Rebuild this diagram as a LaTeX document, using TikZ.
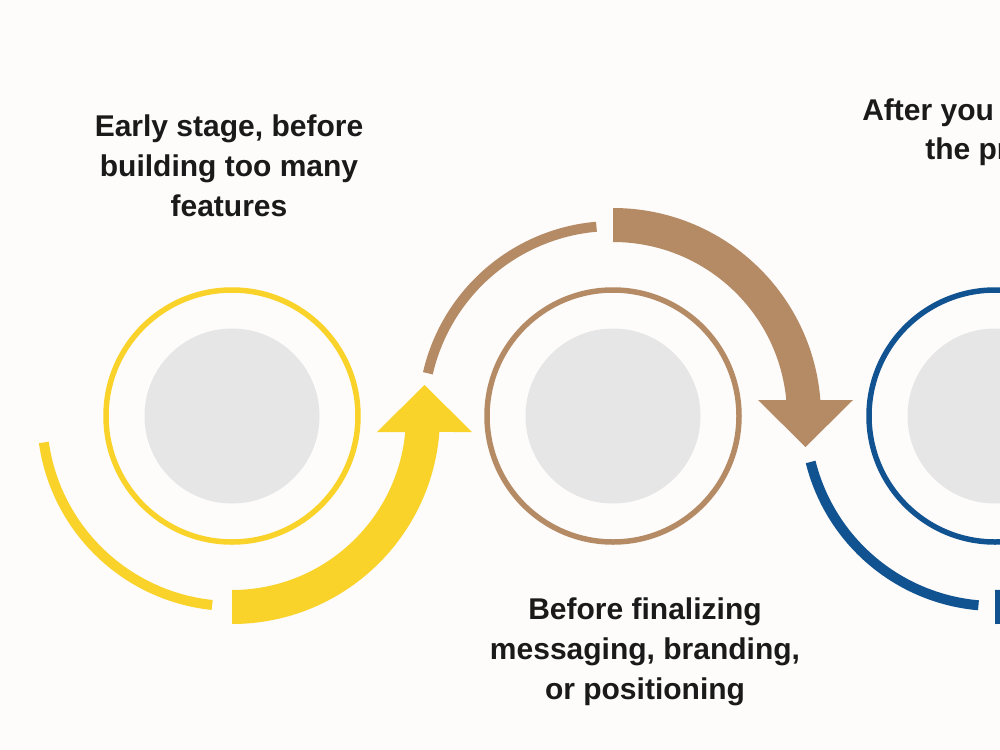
\documentclass[tikz,border=0pt]{standalone}
\usepackage{fontspec}
\setmainfont{Liberation Sans}
\usepackage{tikz}

\definecolor{stageyellow}{RGB}{249,210,42}
\definecolor{stagebrown}{RGB}{181,139,101}
\definecolor{stageblue}{RGB}{17,82,145}
\definecolor{discgrey}{RGB}{230,230,230}
\definecolor{paper}{RGB}{253,252,251}
\definecolor{ink}{RGB}{26,26,26}

\begin{document}
\begin{tikzpicture}[x=0.75pt,y=0.75pt,yscale=-1,xscale=1,
  ring/.style={line width=5.5pt*0.75},
  disc/.style={fill=discgrey},
  thinarc/.style={line width=10pt*0.75,line cap=butt},
  stagetxt/.style={text=ink,font=\bfseries\fontsize{22.5pt}{30pt}\selectfont,inner sep=0pt,align=center}]
%set diagram to 1000 x 750
\clip (0,0) rectangle (1000,750);
\fill [paper] (0,0) rectangle (1000,750);

\coordinate (ycen) at (232,416);
\coordinate (bcen) at (613,416);
\coordinate (ucen) at (995,416);

%Yellow stage
\fill [disc] (ycen) circle [radius=87.5];
\draw [ring,stageyellow] (ycen) circle [radius=126];
\draw [thinarc,stageyellow] (ycen) ++(172:190) arc [start angle=172,end angle=96,radius=190];
%Thick arrow up
\fill [stageyellow] (ycen) ++(90:208) arc [start angle=90,end angle=4.41,radius=208]
  -- (472,432) -- (424.5,385) -- (377,432) -- (405.26,432)
  arc [start angle=5.28,end angle=90,radius=174] -- cycle;

%Brown stage
\fill [disc] (bcen) circle [radius=87.5];
\draw [ring,stagebrown] (bcen) circle [radius=126];
\draw [thinarc,stagebrown] (bcen) ++(193:190) arc [start angle=193,end angle=265,radius=190];
%Thick arrow down
\fill [stagebrown] (bcen) ++(270:208) arc [start angle=270,end angle=355.59,radius=208]
  -- (853,400) -- (805.5,447) -- (758,400) -- (786.26,400)
  arc [start angle=354.72,end angle=270,radius=174] -- cycle;

%Blue stage
\fill [disc] (ucen) circle [radius=87.5];
\draw [ring,stageblue] (ucen) circle [radius=126];
\draw [thinarc,stageblue] (ucen) ++(166:190) arc [start angle=166,end angle=95,radius=190];
\fill [stageblue] (ucen) ++(90:208) arc [start angle=90,end angle=4.41,radius=208]
  -- (1235,432) -- (1187.5,385) -- (1140,432) -- (1168.26,432)
  arc [start angle=5.28,end angle=90,radius=174] -- cycle;

% Text Node
\node (earlytxt) [stagetxt,anchor=north] at (229,114) {Early stage, before\\building too many\\features};
% Text Node
\node (beforetxt) [stagetxt,anchor=north] at (645,597.5) {Before finalizing\\messaging, branding,\\or positioning};
% Text Node
\node (aftertxt) [stagetxt,anchor=base west] at (862,120.5) {After you};
% Text Node
\node (thetxt) [stagetxt,anchor=base west] at (925,159.5) {the pr};

\end{tikzpicture}
\end{document}
